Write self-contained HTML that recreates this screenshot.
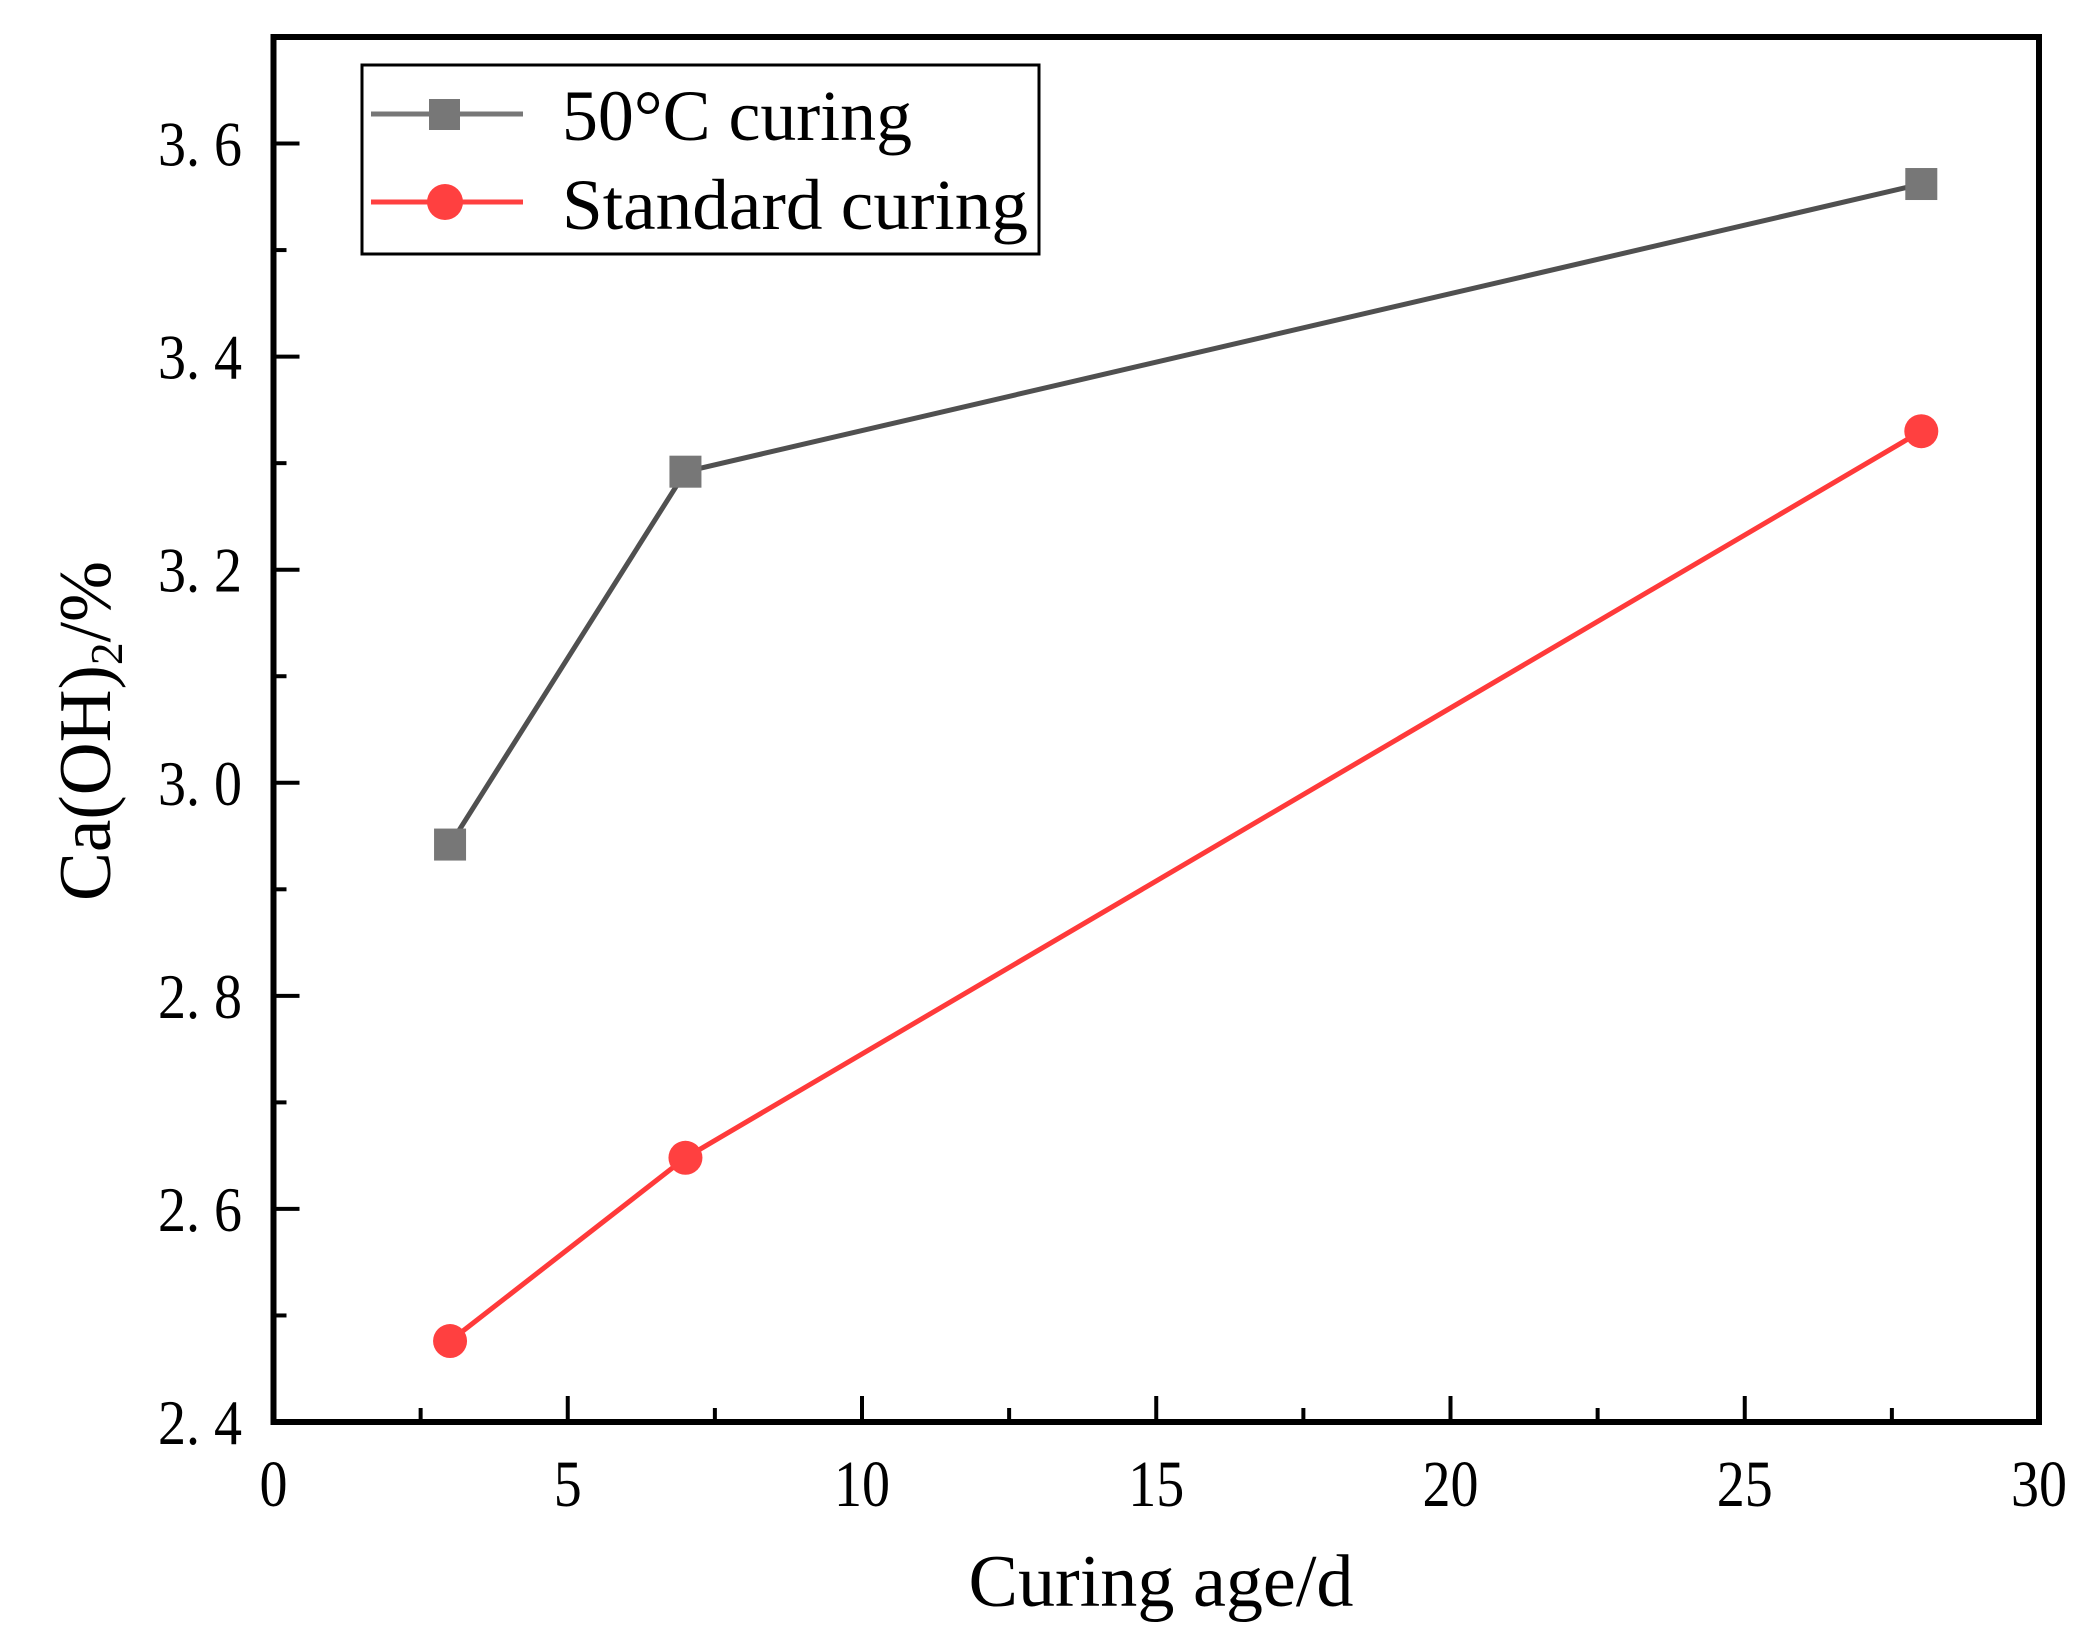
<!DOCTYPE html>
<html><head><meta charset="utf-8"><style>
html,body{margin:0;padding:0;background:#fff;}
svg{display:block;}
text{font-family:"Liberation Serif",serif;fill:#000;}
</style></head><body>
<svg id="chart" width="2092" height="1640" viewBox="0 0 2092 1640">
<g id="grid"></g>
</svg>
<script>
const xTicks = [0, 5, 10, 15, 20, 25, 30];
const yTicks = [2.4, 2.6, 2.8, 3.0, 3.2, 3.4, 3.6];
const yTickLabels = ["2. 4", "2. 6", "2. 8", "3. 0", "3. 2", "3. 4", "3. 6"];
const ages = [3, 7, 28];
const hotCuring = [2.942, 3.292, 3.562];
const standardCuring = [2.476, 2.648, 3.330];

const L = 273.5, R = 2039, T = 37, B = 1422;
const xMin = 0, xMax = 30, yMin = 2.4, yMax = 3.7;
const sx = v => L + (v - xMin) / (xMax - xMin) * (R - L);
const sy = v => B - (v - yMin) / (yMax - yMin) * (B - T);
const NS = "http://www.w3.org/2000/svg";
const svg = document.getElementById('chart');
function mk(tag, attrs, parent) {
  const e = document.createElementNS(NS, tag);
  for (const k in attrs) e.setAttribute(k, attrs[k]);
  (parent || svg).appendChild(e);
  return e;
}
xTicks.forEach((t, i) => {
  const x = sx(t);
  const tk = mk('line', {x1: x, x2: x, y1: B, y2: B - 26, stroke: '#000', 'stroke-width': 4});
  
  
  if (i < xTicks.length - 1) {
    const xm = sx(t + 2.5);
    const mt = mk('line', {x1: xm, x2: xm, y1: B, y2: B - 14, stroke: '#000', 'stroke-width': 4});
    
    
  }
  const lb = mk('text', {x: x, y: B + 84, 'font-size': 66, 'text-anchor': 'middle', textLength: String(t).length * 28, lengthAdjust: 'spacingAndGlyphs'});
  lb.textContent = t;
  
  
});
yTicks.forEach((t, i) => {
  const y = sy(t);
  const tk = mk('line', {x1: L, x2: L + 26, y1: y, y2: y, stroke: '#000', 'stroke-width': 4});
  
  
  const ym = sy(t + 0.1);
  const mt = mk('line', {x1: L, x2: L + 13, y1: ym, y2: ym, stroke: '#000', 'stroke-width': 4});
  
  
  const lb = mk('text', {x: 242, y: y + 22, 'font-size': 64, 'text-anchor': 'end', textLength: 84, lengthAdjust: 'spacingAndGlyphs'});
  lb.textContent = yTickLabels[i];
  
  
});
const fr = mk('rect', {x: L, y: T, width: R - L, height: B - T, fill: 'none', stroke: '#000', 'stroke-width': 6});


function series(vals, color, mcolor, shape, name) {
  const pts = ages.map((a, i) => sx(a) + ',' + sy(vals[i])).join(' ');
  const pl = mk('polyline', {points: pts, fill: 'none', stroke: color, 'stroke-width': 5});
  
  
  ages.forEach((a, i) => {
    const x = sx(a), y = sy(vals[i]);
    let m;
    if (shape === 'sq') m = mk('rect', {x: x - 16, y: y - 16, width: 32, height: 32, fill: mcolor});
    else m = mk('circle', {cx: x, cy: y, r: 17, fill: mcolor});
    
    
  });
}
series(hotCuring, '#505050', '#777777', 'sq', 'hot-curing');
series(standardCuring, '#ff3a3a', '#ff4040', 'circ', 'standard-curing');
</script>
<svg style="position:absolute;left:0;top:0" width="2092" height="1640">
<g>
  <rect x="362" y="65" width="677" height="189" fill="#fff" stroke="#000" stroke-width="3"/>
  <line x1="371" x2="523" y1="114" y2="114" stroke="#777" stroke-width="5"/>
  <rect x="429" y="99" width="31" height="31" fill="#777"/>
  <text x="562" y="140" font-size="72" textLength="350" lengthAdjust="spacingAndGlyphs">50°C curing</text>
  <line x1="371" x2="523" y1="202" y2="202" stroke="#ff4040" stroke-width="5"/>
  <circle cx="445" cy="202" r="18" fill="#ff4040"/>
  <text x="562" y="229" font-size="72" textLength="466" lengthAdjust="spacingAndGlyphs">Standard curing</text>
</g>
<text x="1161" y="1606" font-size="74" text-anchor="middle" textLength="385" lengthAdjust="spacingAndGlyphs">Curing age/d</text>
<text transform="translate(110,731) rotate(-90)" font-size="74" text-anchor="middle" textLength="340" lengthAdjust="spacingAndGlyphs">Ca(OH)<tspan font-size="46" dy="12">2</tspan><tspan dy="-12">/%</tspan></text>
</svg>
</body></html>
